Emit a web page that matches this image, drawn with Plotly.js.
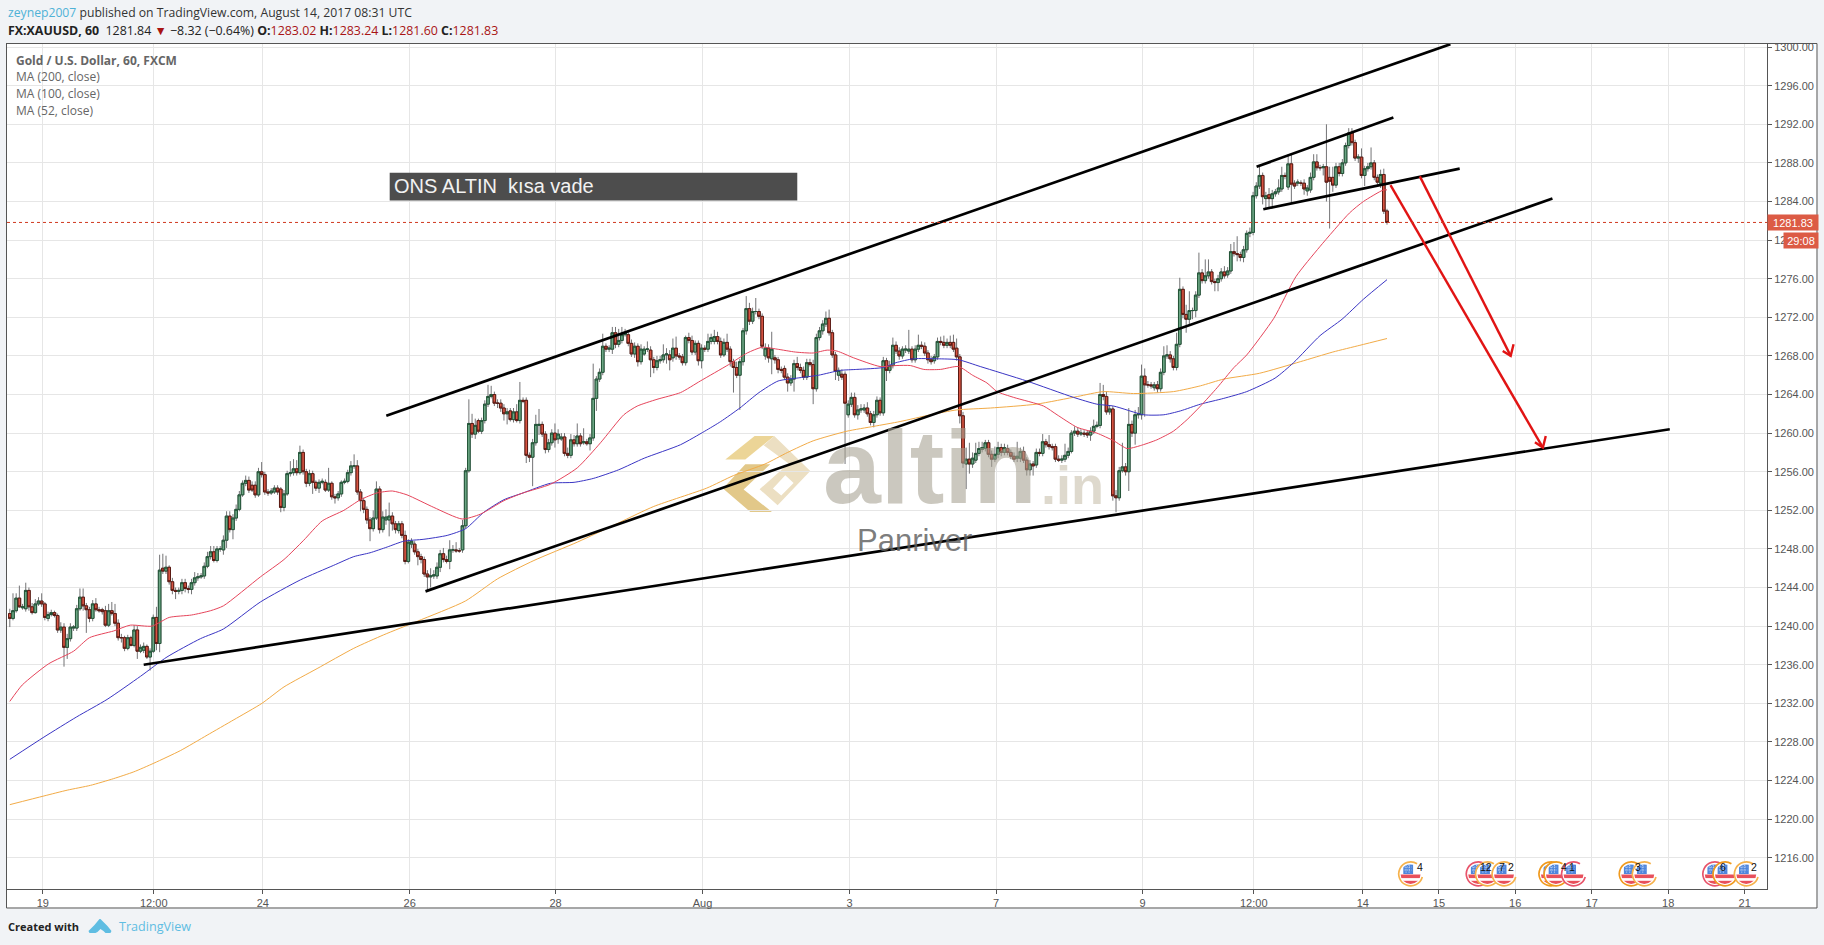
<!DOCTYPE html>
<html><head><meta charset="utf-8">
<script src="https://cdn.plot.ly/plotly-3.0.1.min.js"></script>
<style>html,body{margin:0;padding:0;background:#f1f3f6;overflow:hidden}#chart{width:1824px;height:945px}</style>
</head><body><div id="chart"></div>
<script>
// Each row: open, close, high, low (one row per hourly bar)
const barsJuly19 = [
[1241.3,1240.8,1241.8,1239.9],[1240.8,1241.6,1243.4,1240.6],[1241.6,1242.9,1243.4,1241.4],[1242.9,1242.0,1244.2,1241.9],[1241.9,1242.0,1242.3,1241.7],
[1241.8,1243.7,1244.5,1241.5],[1243.7,1242.0,1244.0,1241.6],[1242.0,1241.4,1242.4,1241.2],[1241.4,1242.3,1242.8,1241.3],[1242.3,1242.6,1243.0,1242.1],
[1242.6,1242.3,1243.4,1242.0],[1242.3,1240.9,1242.5,1240.6],[1240.8,1241.2,1241.5,1240.5],[1241.2,1241.4,1241.7,1241.0],[1241.4,1241.1,1241.6,1240.9],
[1241.1,1239.6,1241.3,1239.3],[1239.6,1239.9,1240.4,1239.3],[1239.9,1237.8,1240.3,1235.8],[1237.8,1238.7,1239.2,1236.6],[1238.7,1239.9,1240.3,1238.4],
[1239.8,1239.9,1240.1,1239.5],[1239.8,1241.8,1242.2,1239.5],[1241.8,1243.0,1243.9,1241.6],[1243.0,1242.1,1243.9,1241.6],[1242.1,1241.7,1242.4,1239.3],
[1241.7,1240.8,1242.0,1240.4],[1240.8,1242.3,1242.7,1240.5],[1242.3,1241.7,1242.9,1241.5],[1241.7,1241.6,1242.0,1241.4],[1241.7,1241.5,1241.9,1241.2],
[1241.6,1240.1,1242.1,1239.9],[1240.1,1241.6,1242.3,1239.9],[1241.6,1241.3,1242.5,1241.1],[1241.3,1240.3,1242.3,1240.0],[1240.3,1238.8,1240.7,1238.5],
[1238.8,1238.8,1239.2,1238.3],[1238.8,1237.7,1239.0,1237.4],[1237.7,1238.8,1239.1,1237.5],[1238.8,1238.0,1239.0,1237.9],[1238.0,1239.6,1240.1,1237.8],
[1239.6,1237.4,1240.0,1236.6],[1237.4,1237.8,1238.1,1237.2],[1237.5,1237.9,1238.3,1237.2],[1237.9,1236.8,1238.1,1236.6],[1236.8,1237.4,1237.7,1235.4],
[1237.4,1240.9,1241.2,1237.2],[1240.9,1238.2,1242.0,1237.5],[1238.2,1245.8,1247.4,1237.3],[1246.0,1245.7,1247.5,1245.4],[1245.7,1246.1,1247.3,1245.4],
[1246.1,1244.6,1246.3,1244.3],[1244.6,1243.7,1245.0,1243.3],[1243.7,1243.6,1244.0,1242.8],[1243.6,1243.7,1244.0,1243.3],[1243.7,1244.5,1244.9,1243.3],
[1244.5,1243.9,1244.9,1243.5],[1243.9,1243.8,1244.2,1243.4],[1243.8,1244.5,1244.9,1243.3],[1244.5,1245.0,1245.6,1244.2],[1245.0,1245.1,1245.5,1244.7],
[1245.1,1245.2,1245.5,1244.9],[1245.2,1246.2,1246.6,1244.9],[1246.2,1247.2,1247.7,1246.0],[1247.2,1247.7,1248.3,1246.9],[1247.7,1246.8,1248.3,1246.6],
[1246.8,1248.0,1248.3,1246.6],[1248.0,1248.0,1248.3,1247.7],[1247.9,1248.9,1249.4,1247.4],[1248.9,1251.4,1251.9,1248.1],[1251.4,1250.0,1251.9,1249.7],
[1250.0,1251.2,1251.6,1249.0],[1251.2,1252.1,1252.6,1250.9],[1252.1,1253.6,1254.0,1251.9],[1253.6,1254.8,1255.1,1253.4],[1254.8,1255.1,1255.6,1254.5],
[1255.1,1254.1,1255.5,1253.8],[1254.6,1254.1,1255.0,1253.9],[1254.6,1253.6,1255.0,1253.3],[1253.6,1256.0,1256.4,1253.4],[1256.0,1255.7,1257.0,1255.4],
[1255.7,1253.9,1256.0,1253.6],[1253.9,1253.8,1254.2,1253.5],[1253.8,1254.0,1254.3,1253.6],[1253.9,1254.3,1254.6,1253.7],[1254.3,1253.9,1254.6,1253.6],
[1254.2,1252.3,1254.4,1251.8],[1252.3,1253.7,1254.1,1251.9],[1253.7,1255.8,1256.1,1253.5],[1255.8,1255.9,1257.1,1255.5],[1255.9,1256.3,1257.3,1255.6],
[1256.3,1255.9,1257.2,1255.6],[1255.9,1258.0,1258.7,1255.7],[1258.0,1256.0,1258.3,1255.7],[1256.0,1254.8,1256.3,1254.4],[1254.8,1255.8,1256.2,1254.5],
[1255.8,1254.9,1256.1,1253.7],[1254.9,1254.3,1255.1,1254.0],[1254.3,1254.9,1255.2,1253.8],[1254.9,1255.0,1255.3,1254.7],[1254.9,1254.1,1255.2,1253.9],
[1254.1,1254.8,1256.4,1253.9],[1254.8,1253.4,1255.0,1253.1],[1253.4,1253.3,1253.7,1252.7],[1253.3,1253.7,1254.0,1253.0],[1253.7,1254.9,1255.1,1253.4],
[1254.9,1255.0,1255.3,1254.7],[1255.0,1255.9,1256.2,1254.8],[1255.9,1256.6,1257.1,1255.6],[1256.6,1256.6,1257.8,1256.3],[1256.6,1253.9,1257.2,1253.6],
[1253.9,1253.0,1254.2,1251.9],[1253.0,1252.1,1253.3,1251.7],[1252.1,1251.0,1252.4,1250.6],[1251.0,1250.1,1251.3,1248.8],[1250.1,1251.2,1252.0,1249.8],
[1251.2,1254.2,1255.0,1251.0],[1254.2,1250.0,1254.5,1249.6],[1250.0,1251.3,1251.9,1249.7],[1251.0,1251.3,1252.1,1250.5],[1251.0,1251.4,1252.8,1249.3],
[1251.4,1250.6,1251.8,1249.9],[1250.6,1250.0,1250.9,1249.6],[1249.9,1250.6,1250.9,1249.6],[1250.6,1249.4,1250.9,1249.1],[1249.4,1246.7,1249.9,1246.4],
[1246.7,1248.7,1249.0,1246.5],[1248.5,1248.8,1249.1,1248.1],[1248.5,1247.7,1248.8,1247.4],[1247.7,1247.2,1248.0,1246.3],[1247.2,1246.9,1247.5,1246.5],
[1246.9,1245.4,1247.2,1245.1],[1245.4,1245.1,1245.8,1243.7],[1245.1,1245.2,1246.0,1244.0],[1245.2,1245.3,1245.8,1244.9],[1245.2,1246.1,1246.6,1244.9],
[1246.1,1247.5,1247.9,1245.6],[1247.5,1246.9,1248.1,1246.6],[1246.9,1246.7,1247.3,1246.5],[1246.7,1247.9,1248.9,1245.9],[1247.9,1247.9,1248.4,1247.6],
[1247.9,1247.8,1248.7,1247.6],[1247.8,1247.8,1248.1,1247.6],[1247.9,1250.4,1251.0,1247.6],[1250.4,1256.1,1256.4,1250.1],[1256.1,1261.0,1263.5,1255.9]];
const barsJuly27 = [
[1261.0,1259.9,1262.0,1259.5],[1259.9,1260.8,1261.5,1259.4],[1261.3,1260.2,1261.5,1260.0],[1260.2,1261.3,1261.6,1259.9],[1261.3,1263.0,1263.4,1261.0],
[1263.0,1263.8,1265.0,1262.7],[1263.8,1264.0,1264.9,1263.6],[1264.0,1263.1,1264.3,1262.8],[1263.1,1263.1,1263.5,1262.6],[1263.1,1262.6,1263.5,1262.2],
[1262.6,1262.0,1263.0,1261.3],[1262.0,1262.2,1262.6,1260.9],[1262.3,1261.4,1262.6,1261.2],[1261.4,1262.2,1262.6,1261.1],[1262.2,1261.3,1263.0,1261.1],
[1261.3,1263.4,1265.3,1261.0],[1263.4,1263.3,1263.7,1263.1],[1263.4,1257.7,1263.7,1256.9],[1257.7,1257.5,1258.0,1257.0],[1257.5,1259.0,1259.4,1254.5],
[1259.0,1260.9,1261.9,1258.7],[1260.8,1260.9,1262.5,1259.8],[1260.9,1259.9,1261.2,1259.6],[1259.9,1258.3,1260.2,1257.9],[1258.3,1259.0,1259.4,1258.0],
[1259.0,1260.0,1260.4,1258.7],[1260.0,1259.3,1261.0,1258.5],[1259.4,1259.9,1260.4,1258.9],[1259.4,1259.6,1260.0,1259.2],[1259.6,1257.9,1260.0,1257.6],
[1257.9,1257.7,1258.5,1257.4],[1257.7,1259.3,1259.9,1257.4],[1259.3,1258.9,1259.8,1258.6],[1258.9,1259.7,1261.0,1258.6],[1259.7,1258.9,1260.0,1258.6],
[1259.0,1259.1,1260.5,1258.8],[1259.1,1258.9,1259.4,1258.7],[1258.9,1259.5,1259.9,1258.2],[1259.5,1263.6,1267.2,1259.2],[1263.6,1265.6,1265.9,1262.3],
[1265.6,1266.3,1266.7,1265.3],[1266.3,1269.0,1270.3,1266.0],[1269.0,1268.7,1269.3,1268.4],[1268.7,1268.8,1269.1,1268.4],[1268.7,1270.4,1271.0,1268.2],
[1270.4,1269.2,1271.0,1268.8],[1269.2,1269.6,1270.8,1268.9],[1269.6,1270.2,1271.0,1269.3],[1270.2,1270.4,1270.8,1270.0],[1270.2,1269.3,1270.6,1269.0],
[1269.3,1268.2,1269.7,1267.9],[1268.2,1269.0,1269.4,1267.8],[1269.0,1267.4,1269.3,1266.9],[1267.4,1268.7,1269.2,1267.1],[1268.2,1268.7,1269.0,1268.0],
[1268.7,1268.7,1269.5,1268.4],[1268.6,1267.6,1269.0,1265.8],[1267.6,1266.8,1267.9,1266.2],[1266.8,1267.5,1268.0,1266.5],[1267.5,1267.6,1268.0,1267.2],
[1267.6,1268.1,1269.2,1267.3],[1268.1,1268.2,1268.8,1267.2],[1268.1,1267.6,1268.6,1266.5],[1267.8,1268.8,1269.8,1267.4],[1268.8,1268.0,1270.0,1267.6],
[1268.0,1267.9,1268.3,1267.6],[1267.9,1267.3,1268.2,1267.0],[1267.3,1269.9,1270.1,1267.0],[1269.9,1269.6,1270.4,1269.3],[1269.6,1268.4,1270.1,1268.1],
[1268.4,1269.3,1269.6,1268.1],[1269.3,1267.5,1269.6,1267.0],[1267.5,1268.8,1269.2,1266.7],[1268.8,1268.7,1269.1,1268.4],[1268.7,1269.5,1270.3,1268.4],
[1269.5,1269.9,1270.3,1269.2],[1269.5,1270.0,1270.7,1269.2],[1270.0,1269.5,1270.5,1269.2],[1269.5,1268.1,1269.9,1267.8],[1268.1,1269.4,1269.8,1267.9],
[1269.4,1268.7,1270.3,1268.4],[1268.7,1267.4,1269.0,1266.9],[1267.4,1266.8,1267.7,1264.2],[1266.8,1266.0,1267.4,1265.7],[1266.0,1267.4,1267.7,1262.4],
[1267.4,1270.6,1270.9,1267.0],[1270.6,1272.9,1274.2,1270.2],[1272.9,1271.6,1273.5,1271.2],[1271.6,1272.6,1273.0,1271.3],[1272.6,1272.6,1274.0,1272.3],
[1272.6,1272.1,1272.9,1271.8],[1272.1,1269.0,1272.4,1268.7],[1268.0,1268.8,1269.3,1267.6],[1268.8,1267.8,1269.2,1267.3],[1267.7,1268.7,1270.5,1266.1],
[1267.8,1267.6,1268.1,1267.2],[1267.6,1266.6,1267.9,1266.2],[1266.6,1266.5,1266.9,1266.2],[1266.7,1265.8,1267.0,1265.5],[1265.8,1265.2,1266.2,1264.3],
[1265.2,1265.6,1266.0,1264.9],[1265.6,1267.2,1267.6,1264.3],[1267.2,1266.8,1267.9,1266.5],[1266.8,1266.5,1267.2,1266.2],[1266.5,1265.8,1266.9,1265.5],
[1265.8,1267.3,1267.7,1265.5],[1267.3,1267.1,1267.7,1266.9],[1267.1,1264.6,1267.6,1263.0],[1264.6,1269.9,1270.3,1264.3],[1269.9,1270.6,1271.0,1269.6],
[1270.6,1271.3,1271.7,1270.2],[1271.3,1271.9,1272.6,1271.0],[1271.9,1270.4,1272.8,1270.1],[1270.4,1268.1,1270.7,1267.8],[1268.1,1266.4,1268.4,1265.5],
[1266.0,1266.5,1266.8,1265.4],[1266.1,1265.8,1266.6,1265.5],[1266.1,1263.1,1266.4,1256.8],[1261.9,1263.0,1263.4,1261.6],[1263.0,1263.7,1264.2,1262.7],
[1263.7,1261.9,1264.2,1261.6],[1261.9,1262.4,1262.9,1261.4],[1262.4,1262.5,1263.0,1262.1],[1262.4,1262.6,1263.0,1262.1],[1262.6,1262.0,1263.2,1261.7],
[1262.0,1261.1,1262.3,1260.8],[1261.1,1261.9,1262.3,1260.6],[1261.9,1263.4,1263.8,1261.6],[1263.4,1262.1,1263.7,1261.8]];
const barsAug4 = [
[1262.1,1267.5,1267.9,1261.8],[1267.5,1266.5,1267.8,1265.4],[1266.5,1267.0,1267.5,1266.2],[1267.0,1269.1,1269.9,1266.7],[1269.1,1268.5,1269.5,1268.2],
[1268.5,1268.0,1268.9,1267.6],[1268.0,1268.7,1269.0,1267.7],[1268.6,1268.7,1269.1,1268.3],[1268.5,1268.7,1270.7,1268.2],[1268.7,1267.6,1269.0,1267.3],
[1267.6,1268.7,1269.1,1267.3],[1268.7,1269.1,1270.2,1268.4],[1269.1,1269.0,1269.5,1268.7],[1269.0,1268.3,1269.4,1268.0],[1268.3,1267.6,1268.6,1267.2],
[1267.6,1267.4,1268.0,1267.1],[1267.5,1267.9,1268.2,1267.2],[1267.9,1269.5,1269.9,1267.6],[1269.5,1269.4,1270.0,1269.1],[1269.4,1269.1,1270.1,1268.8],
[1269.1,1269.4,1269.8,1268.8],[1269.4,1269.1,1270.1,1268.8],[1269.4,1268.7,1270.2,1268.4],[1268.8,1267.9,1269.8,1267.5],[1267.9,1261.8,1268.2,1261.0],
[1261.8,1256.9,1262.2,1256.4],[1256.8,1257.3,1258.5,1254.2],[1257.3,1256.8,1259.0,1255.8],[1256.8,1257.4,1258.0,1256.4],[1257.2,1257.9,1259.0,1256.9],
[1257.9,1258.4,1259.1,1257.6],[1258.3,1258.5,1259.1,1258.0],[1258.4,1259.0,1259.3,1258.1],[1259.0,1257.8,1259.3,1257.5],[1257.8,1257.3,1258.2,1256.5],
[1257.3,1257.8,1258.6,1257.0],[1257.8,1258.5,1259.1,1257.4],[1258.5,1258.0,1258.9,1257.6],[1258.0,1258.5,1258.9,1257.7],[1258.4,1258.0,1258.8,1257.7],
[1258.0,1257.6,1258.3,1257.3],[1257.6,1257.3,1258.0,1257.0],[1257.4,1257.6,1259.1,1257.0],[1257.4,1258.1,1258.5,1257.0],[1258.1,1257.2,1258.6,1256.9],
[1257.2,1256.2,1257.5,1255.6],[1256.2,1256.8,1257.2,1255.6],[1256.8,1256.6,1257.1,1255.6],[1256.7,1258.0,1258.4,1256.4],[1258.0,1257.9,1258.4,1257.6],
[1257.9,1259.1,1259.9,1257.6],[1259.1,1258.8,1259.4,1258.5],[1258.8,1258.6,1259.8,1258.3],[1258.6,1258.5,1258.9,1258.2],[1258.6,1257.3,1258.9,1257.0],
[1257.3,1257.2,1257.7,1257.0],[1257.2,1257.3,1257.7,1256.9],[1257.3,1257.7,1258.9,1257.0],[1257.7,1258.1,1258.5,1257.4],[1258.1,1260.0,1260.3,1257.9],
[1260.0,1260.2,1260.7,1259.7],[1260.2,1259.9,1260.6,1259.6],[1259.9,1260.0,1260.4,1259.7],[1260.0,1259.9,1260.3,1259.6],[1260.0,1259.8,1260.3,1259.5],
[1259.8,1260.2,1260.6,1259.2],[1260.2,1260.7,1261.4,1259.9],[1260.7,1260.8,1261.2,1260.5],[1260.8,1264.0,1265.2,1260.5],[1264.0,1263.8,1265.0,1263.4],
[1263.8,1262.2,1264.3,1261.9],[1262.2,1262.5,1262.9,1261.9],[1262.5,1253.5,1262.8,1253.0],[1253.5,1253.3,1254.1,1251.8],[1253.3,1256.1,1256.5,1253.0],
[1256.1,1256.5,1259.0,1255.9],[1256.5,1256.0,1256.9,1255.6],[1256.0,1260.9,1262.6,1254.0],[1260.9,1260.0,1261.3,1259.6],[1260.0,1261.9,1262.4,1258.8],
[1261.9,1262.0,1262.7,1261.5],[1261.9,1265.9,1267.1,1261.4],[1265.9,1265.0,1266.7,1261.7],[1265.0,1265.0,1265.4,1264.7],[1265.0,1264.9,1265.3,1264.6],
[1264.7,1265.0,1265.3,1264.4],[1265.0,1264.6,1265.4,1264.2],[1264.6,1266.3,1266.7,1264.3],[1266.3,1268.0,1269.0,1266.0],[1268.0,1268.1,1269.1,1267.7],
[1268.1,1267.7,1268.5,1267.3],[1267.7,1266.8,1268.0,1266.5],[1266.8,1269.2,1270.4,1266.5]];
const barsAug10 = [
[1269.2,1274.9,1276.1,1268.9],[1274.9,1272.3,1275.2,1271.9],[1272.3,1271.8,1273.3,1270.4],[1271.8,1272.7,1274.7,1271.1],[1272.7,1272.7,1273.0,1271.8],
[1272.7,1274.3,1274.7,1272.0],[1274.3,1276.6,1278.7,1274.0],[1276.6,1275.8,1277.0,1275.5],[1275.8,1276.3,1278.0,1275.5],[1276.3,1276.7,1278.0,1276.0],
[1276.7,1275.7,1277.0,1275.4],[1275.7,1275.6,1276.0,1274.7],[1275.6,1276.0,1276.4,1274.7],[1276.0,1276.7,1277.1,1275.7],[1276.7,1276.3,1277.3,1276.0],
[1276.4,1276.8,1277.2,1276.1],[1276.8,1278.8,1279.6,1276.5],[1278.8,1278.6,1279.8,1278.3],[1278.6,1278.5,1280.4,1277.8],[1278.5,1278.2,1278.8,1277.8],
[1278.2,1279.0,1279.4,1277.7],[1279.0,1280.7,1281.0,1278.7],[1280.7,1280.8,1281.3,1280.3],[1280.8,1284.6,1285.0,1280.5],[1284.6,1285.6,1286.0,1284.3],
[1285.6,1286.7,1287.7,1285.3],[1286.7,1284.5,1287.0,1283.7],[1284.3,1284.6,1285.0,1283.3],[1284.7,1284.3,1285.4,1283.3],[1284.3,1284.8,1285.2,1283.3],
[1284.8,1285.0,1285.3,1284.5],[1285.0,1285.4,1286.3,1284.7],[1285.3,1286.7,1287.6,1285.0],[1286.7,1286.6,1287.0,1286.3],[1285.5,1287.9,1288.9,1285.2],
[1287.9,1285.8,1288.9,1283.8],[1285.9,1285.6,1286.2,1285.3],[1285.9,1286.0,1286.3,1285.6],[1285.9,1285.9,1286.2,1285.6],[1285.9,1285.3,1286.3,1284.7],
[1285.1,1285.4,1285.7,1284.6],[1285.2,1286.5,1287.0,1284.9],[1286.5,1288.1,1288.9,1286.2],[1288.1,1287.5,1288.9,1287.2],[1287.5,1287.5,1287.8,1287.2],
[1287.5,1287.6,1287.9,1286.7],[1287.6,1286.0,1292.0,1284.0],[1286.5,1286.1,1287.6,1281.2],[1286.5,1285.7,1287.6,1285.0],[1285.7,1287.6,1288.0,1285.4],
[1287.6,1286.9,1288.0,1286.6],[1286.9,1288.0,1288.4,1286.6],[1288.0,1289.8,1290.1,1287.7],[1289.8,1291.1,1291.6,1289.5],[1291.1,1290.1,1291.6,1289.8],
[1290.1,1288.5,1290.4,1288.2],[1288.5,1288.6,1288.9,1288.0],[1288.6,1286.7,1289.5,1286.4],[1286.7,1287.4,1287.7,1285.6],[1287.4,1287.6,1288.0,1287.1],
[1287.6,1288.0,1289.6,1287.3],[1288.0,1286.5,1288.3,1286.2],[1286.5,1286.0,1286.8,1285.7],[1285.9,1286.8,1287.3,1285.4],[1286.8,1283.0,1287.4,1282.7],
[1283.02,1281.83,1283.24,1281.60]];

// Moving averages: bar number and level read at points along each line
const ma52Bar = [0,3.9,12.2,20,25,32.6,37.8,44.6,50,57,63,67,78.6,86,92.2,98,104.8,110,115.2,120,124.6,133,141.9,147.6,155,161,169.6,178,185.3,192.6,196.8,203,210.4,216.6,225.5,231.3,236,240.7,246.4,252,256.4,259.5,264.7,273,278,282.5,286.7,291.9,297.6,302,306.5,309.7,314.9,324.3,328.5,334.8,341,346.3,350.5,354.6,359.8,365,369.3,373.5,378.7,384,388,396.5,403.4,410.9,420.2,424.6,430.9,432];
const ma52Val = [1232.2,1233.9,1236.1,1237.4,1238.8,1239.5,1240.1,1240.0,1240.9,1241.15,1241.6,1242.1,1245.1,1246.9,1248.9,1250.9,1252,1253.1,1253.8,1254,1253.6,1252.3,1251.1,1251.6,1253,1253.8,1254.7,1256.4,1259,1261.9,1262.8,1263.5,1264.2,1265.4,1267.1,1268.3,1268.9,1268.7,1268.4,1268.3,1268.6,1268.5,1267.8,1266.9,1267,1267,1266.6,1266.6,1266.9,1266,1265.2,1264.3,1263.7,1262.8,1261.9,1260.6,1260,1259.2,1258.4,1258.7,1259.3,1260.2,1261.4,1262.8,1264.7,1266.8,1268.1,1271.9,1276.2,1279.3,1282.8,1284,1285.2,1285.2];
const ma100Bar = [0,10.7,21,30.5,41,49.3,59.8,67,78.6,91.2,101.6,107.9,113,118.4,123.6,129.9,137.2,143,148.7,155,161,169.6,177,183,191,199,210.4,218,223,229,235,241,246.9,253.7,260.5,265.7,274,278,283.5,290.9,297.6,304.4,319,333.7,341,346.3,355.7,362,367.2,373.5,380.8,388,396.9,402.7,411,417.9,424.7,432];
const ma100Val = [1226.2,1228.5,1230.6,1232.4,1234.8,1236.8,1238.7,1239.7,1242.5,1244.8,1246.3,1247.2,1247.6,1248.2,1248.8,1249,1249.4,1250.1,1251.8,1253.1,1253.8,1254.8,1254.9,1255.3,1256.2,1257.4,1258.8,1260.2,1261.2,1262.6,1264.2,1265.4,1265.7,1266,1266.5,1266.6,1266.8,1267.3,1267.7,1267.7,1267.6,1266.9,1265.4,1263.7,1263,1262.8,1261.9,1261.9,1262.3,1263,1263.6,1264.3,1265.7,1267.3,1270.1,1271.8,1273.9,1275.9];
const ma200Bar = [0,10.7,18,25.3,32.6,38.9,45.2,53.5,61.9,70.3,79.1,86,96.4,107.9,117.3,127.8,142.9,153,164.4,178,191,202,218.6,227,236.9,244,252,262.6,271,279.3,288.8,297,307.6,322,335,343,352.5,365,373.5,380.8,392,404.8,415,423.5,432];
const ma200Val = [1221.5,1222.4,1223,1223.5,1224.2,1224.9,1225.8,1227.1,1228.7,1230.3,1232,1233.7,1235.6,1237.7,1239.1,1240.5,1242.6,1244.9,1246.8,1248.7,1250.7,1252.4,1254.3,1255.6,1256.8,1258,1259.2,1260.2,1260.7,1261.2,1261.9,1262.4,1262.6,1263,1263.8,1264.3,1264.1,1264.3,1264.9,1265.6,1266.2,1267.4,1268.4,1269.1,1269.8];

// Hand-drawn trend lines and arrows: bar number and level of their ends
const trendUpperBar = [118.1,451.9], trendUpperVal = [1261.8,1300.3];
const trendMiddleBar = [130.4,483.9], trendMiddleVal = [1243.6,1284.3];
const trendLowerBar = [42,520.7], trendLowerVal = [1236.0,1260.4];
const wedgeTopBar = [391.1,434], wedgeTopVal = [1287.6,1292.7];
const wedgeBottomBar = [393.2,454.8], wedgeBottomVal = [1283.2,1287.4];
const arrowLongBar = [433.1,480.9,null,478.4,480.9,481.8], arrowLongVal = [1285.7,1258.5,null,1259.05,1258.5,1259.7];
const arrowShortBar = [442.3,470.8,null,468.3,470.8,471.7], arrowShortVal = [1286.6,1268,null,1268.5,1268,1269.2];

// Time axis
const timeTickBar = [10.35,45.16,79.35,125.45,171.2,217.3,263.4,309.4,355.3,390.2,424.4,448.3,472.2,496.2,520.2,544.2];
const timeTickText = ['19','12:00','24','26','28','Aug','3','7','9','12:00','14','15','16','17','18','21'];

// Economic calendar badges on the time axis
const eventBar = [439.4,460.6,463.5,468.7,483.4,485,490.5,508.6,512.7,534.8,538,544.7];
const eventRing = ['#f6b24c','#e8546a','#f6b24c','#f6b24c','#f09a1e','#f09a1e','#e8546a','#f09a1e','#f6b24c','#e8546a','#f09a1e','#f6b24c'];
const eventNoteBar = [442.3,463.2,468,471,487.5,490,510.8,537.5,547.2];
const eventNoteText = ['4','12','7','2','4','1','3','6','2'];

const lastClose = 1281.83;
const allBars = barsJuly19.concat(barsJuly27, barsAug4, barsAug10);
const barIndex = allBars.map((_, i) => i);
const opens = allBars.map(r => r[0]), closes = allBars.map(r => r[1]);
const highs = allBars.map(r => r[2]), lows = allBars.map(r => r[3]);
const bodyTop = allBars.map(r => Math.max(r[0], r[1])), bodyBottom = allBars.map(r => Math.min(r[0], r[1]));

// page pixel <-> paper fraction (decorations only)
const L = 6.5, R = 1767, T = 43.5, B = 889;
const px = x => (x - L) / (R - L), py = y => 1 - (y - T) / (B - T);

const mono = c => ({line: {color: c, width: 1}, fillcolor: c});
const wicks = {type: 'candlestick', x: barIndex, open: opens, close: closes, high: highs, low: lows,
  increasing: mono('#737375'), decreasing: mono('#737375'), whiskerwidth: 0, hoverinfo: 'skip', showlegend: false};
const bodies = {type: 'candlestick', x: barIndex, open: opens, close: closes, high: bodyTop, low: bodyBottom,
  increasing: {line: {color: '#225437', width: 1}, fillcolor: '#6BA583'},
  decreasing: {line: {color: '#5B1A13', width: 1}, fillcolor: '#D75442'},
  whiskerwidth: 0, hoverinfo: 'skip', showlegend: false};
const line = (x, y, color, width, smooth) => ({type: 'scatter', mode: 'lines', x, y,
  line: smooth ? {color, width, shape: 'spline', smoothing: 0.6} : {color, width},
  hoverinfo: 'skip', showlegend: false, connectgaps: false});

const traces = [wicks, bodies,
  line(ma200Bar, ma200Val, '#f2ab47', 1, true),
  line(ma100Bar, ma100Val, '#3a35c4', 1, true),
  line(ma52Bar, ma52Val, '#e6455b', 1, true),
  line(trendUpperBar, trendUpperVal, '#000', 2.7),
  line(trendMiddleBar, trendMiddleVal, '#000', 2.7),
  line(trendLowerBar, trendLowerVal, '#000', 2.7),
  line(wedgeTopBar, wedgeTopVal, '#000', 2.7),
  line(wedgeBottomBar, wedgeBottomVal, '#000', 2.7),
  line(arrowLongBar, arrowLongVal, '#e11414', 2.4),
  line(arrowShortBar, arrowShortVal, '#e11414', 2.4)];

const poly = pts => 'M' + pts.map(p => px(p[0]) + ' ' + py(p[1])).join(' L') + ' Z';
const zoomPt = (zx, zy) => [700 + zx / 3, 420 + zy / 3];
const logoPoly = (arr, fill) => ({type: 'path', xref: 'paper', yref: 'paper', layer: 'below', fillcolor: fill, line: {width: 0},
  path: poly(arr.map(p => zoomPt(p[0], p[1])))});

const shapes = [
  {type: 'rect', xref: 'paper', yref: 'paper', x0: px(6), x1: px(1817), y0: py(43), y1: py(908), fillcolor: '#fff', line: {color: '#555', width: 1}, layer: 'below'},
  logoPoly([[163,47],[222,47],[135,118],[75,118]], '#ecd597'),
  {type: 'path', xref: 'paper', yref: 'paper', layer: 'below', fillcolor: '#ecdfc2', line: {width: 0}, fillrule: 'evenodd',
   path: poly([[222,47],[330,152],[232,255],[178,207],[265,130],[190,75]].map(p => zoomPt(p[0], p[1]))) + ' ' + poly([[218,205],[255,165],[280,188],[243,226]].map(p => zoomPt(p[0], p[1])))},
  logoPoly([[135,132],[210,132],[130,208],[215,275],[150,275],[68,205]], '#e2c889'),
  {type: 'rect', xref: 'paper', yref: 'paper', x0: px(389.3), x1: px(797), y0: py(172.3), y1: py(200), fillcolor: '#4d4d4d', line: {width: 0}, layer: 'above'},
  {type: 'line', xref: 'paper', yref: 'y', x0: 0, x1: 1, y0: lastClose, y1: lastClose, line: {color: '#d0391f', width: 1, dash: 'dot'}, layer: 'above'},
  {type: 'path', xref: 'paper', yref: 'paper', layer: 'above', fillcolor: '#5fbde2', line: {width: 0},
   path: poly([[88,931],[94,925],[99,919],[100,919],[104,923],[107,926],[111,931],[110,933],[105,933],[103,931],[100,929],[97,932],[95,933],[89,933]])}
];

const flagSvg = ring => 'data:image/svg+xml;utf8,' + encodeURIComponent(
  '<svg xmlns="http://www.w3.org/2000/svg" width="28" height="28" viewBox="0 0 28 28">' +
  '<defs><clipPath id="c"><circle cx="14" cy="14" r="10"/></clipPath></defs>' +
  '<circle cx="14" cy="14" r="11.5" fill="#fff"/>' +
  '<g clip-path="url(#c)"><rect x="2" y="14.5" width="24" height="3.6" fill="#e8505b"/><rect x="2" y="20.8" width="24" height="3.6" fill="#e8505b"/>' +
  '<rect x="6.7" y="4.5" width="9.8" height="9.5" fill="#4f86dc"/>' +
  '<path d="M8 7H15M8 10H15M9.5 5V13M12.5 5V13" stroke="#fff" stroke-width="0.7" stroke-dasharray="1 1.2"/></g>' +
  '<path d="M20.5 3.7 A12 12 0 1 0 25.7 17" fill="none" stroke="' + ring + '" stroke-width="1.7"/></svg>');

const images = eventBar.map((b, i) => ({source: flagSvg(eventRing[i]), xref: 'x', yref: 'paper', x: b, y: py(874),
  sizex: 28 * (551.2 + 0.88) / (R - L), sizey: 28 / (B - T), xanchor: 'center', yanchor: 'middle', sizing: 'stretch', layer: 'above'}));

const UI = '"Open Sans", sans-serif', AR = '"Liberation Sans", Arial, sans-serif';
const note = (x, y, text, font, extra) => Object.assign({xref: 'paper', yref: 'paper', x: px(x), y: py(y), text, showarrow: false,
  xanchor: 'left', yanchor: 'middle', align: 'left', borderpad: 0, font}, extra || {});
const redv = t => '<span style="color:#a81414">' + t + '</span>';
const annotations = [
  note(6, 12, '<span style="color:#4fb2d6">zeynep2007</span> published on TradingView.com, August 14, 2017 08:31 UTC', {family: UI, size: 12.2, color: '#333'}),
  note(6, 30, '<b>FX:XAUUSD, 60</b>  1281.84 <span style="color:#a81414">▼</span> −8.32 (−0.64%) <b>O:</b>' + redv('1283.02') + ' <b>H:</b>' + redv('1283.24') + ' <b>L:</b>' + redv('1281.60') + ' <b>C:</b>' + redv('1281.83'), {family: UI, size: 12.4, color: '#222'}),
  note(15, 59.7, '<b>Gold / U.S. Dollar, 60, FXCM</b>', {family: UI, size: 12, color: '#666'}),
  note(15, 76.5, 'MA (200, close)', {family: UI, size: 12, color: '#666'}),
  note(15, 93.5, 'MA (100, close)', {family: UI, size: 12, color: '#666'}),
  note(15, 110.5, 'MA (52, close)', {family: UI, size: 12, color: '#666'}),
  note(393, 186, 'ONS ALTIN\u00A0\u00A0kısa vade', {family: AR, size: 20, color: '#f2f2f2'}),
  note(822, 467, '<b>altin</b>', {family: AR, size: 104, color: 'rgba(165,160,145,0.58)'}),
  note(1040, 485, '<b>.in</b>', {family: AR, size: 54, color: 'rgba(190,180,155,0.5)'}),
  note(856, 540, 'Panriver', {family: AR, size: 31, color: 'rgba(95,95,95,0.82)'}),
  note(7, 927, '<b>Created with</b>', {family: UI, size: 11, color: '#222'}),
  note(118, 927, 'TradingView', {family: UI, size: 12.6, color: '#5fbde2'}),
  {xref: 'paper', yref: 'y', x: px(1767), y: lastClose, text: '1281.83', showarrow: false, xanchor: 'left', yanchor: 'middle', width: 50, height: 15, bgcolor: '#dc5b45', align: 'center', borderpad: 0, font: {family: AR, size: 11, color: '#fff'}},
  {xref: 'paper', yref: 'paper', x: px(1783), y: py(240), text: '29:08', showarrow: false, xanchor: 'left', yanchor: 'middle', width: 34, height: 15, bgcolor: '#dc5b45', align: 'center', borderpad: 0, font: {family: AR, size: 11, color: '#fff'}}
].concat(eventNoteBar.map((b, i) => ({xref: 'x', yref: 'paper', x: b, y: py(866.7), text: eventNoteText[i], showarrow: false, xanchor: 'center', yanchor: 'middle', font: {family: AR, size: 10.5, color: '#111'}})));

const layout = {
  width: 1824, height: 945, autosize: false,
  margin: {l: L, r: 1824 - R, t: T, b: 945 - B, pad: 0},
  paper_bgcolor: '#f1f3f6', plot_bgcolor: 'rgba(0,0,0,0)',
  showlegend: false, hovermode: false, boxgap: 0.18, boxgroupgap: 0, dragmode: false,
  xaxis: {type: 'linear', range: [-0.88, 551.2], rangeslider: {visible: false}, tickmode: 'array', tickvals: timeTickBar, ticktext: timeTickText,
    ticks: 'outside', ticklen: 4, tickcolor: '#555', tickfont: {family: AR, size: 11, color: '#555'},
    showgrid: true, gridcolor: '#e6e6e6', gridwidth: 1, zeroline: false, showline: true, mirror: true, linecolor: '#555', linewidth: 1},
  yaxis: {side: 'right', range: [1212.76, 1300.32], tick0: 1200, dtick: 4, tickformat: '.2f', ticks: 'outside', ticklen: 4, tickcolor: '#555',
    tickfont: {family: AR, size: 11, color: '#555'}, showgrid: true, gridcolor: '#e6e6e6', gridwidth: 1, zeroline: false, showline: true, mirror: true, linecolor: '#555', linewidth: 1},
  shapes, images, annotations
};
Plotly.newPlot('chart', traces, layout, {displayModeBar: false, staticPlot: true, responsive: false});
</script></body></html>
